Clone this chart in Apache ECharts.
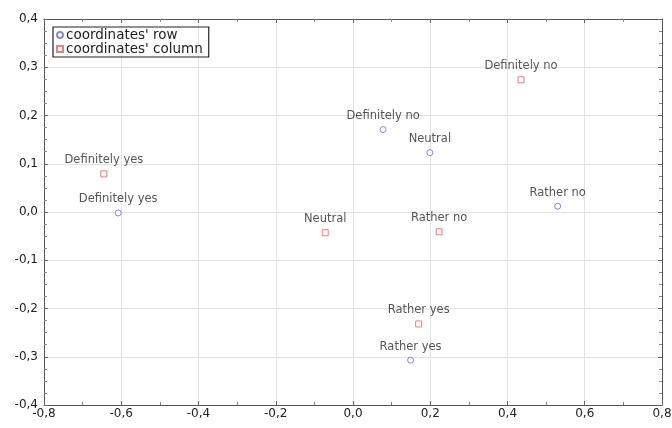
<!DOCTYPE html>
<html>
<head>
<meta charset="utf-8">
<script src="https://cdn.jsdelivr.net/npm/echarts@6/dist/echarts.min.js"></script>
<style>
  html, body { margin: 0; padding: 0; background: #fff; }
  #chart { width: 672px; height: 428px; }
</style>
</head>
<body>
<div id="chart"></div>
<script type="text/javascript">
	// categories and coordinates
	var categories = ['Definitely yes', 'Rather yes', 'Neutral', 'Rather no', 'Definitely no'];
	var rowX = [-0.608, 0.149, 0.199, 0.530, 0.078];
	var rowY = [-0.002, -0.307, 0.123, 0.012, 0.171];
	var colX = [-0.645, 0.170, -0.072, 0.223, 0.435];
	var colY = [0.079, -0.232, -0.043, -0.041, 0.274];
	var xTicks = [-0.8, -0.6, -0.4, -0.2, 0.0, 0.2, 0.4, 0.6, 0.8];
	var yTicks = [-0.4, -0.3, -0.2, -0.1, 0.0, 0.1, 0.2, 0.3, 0.4];

	function toPoints(xs, ys) {
		var out = [];
		for (var i = 0; i < categories.length; i++) {
			out.push({ name: categories[i], value: [xs[i], ys[i]] });
		}
		return out;
	}
	function comma(v) {
		return v.toFixed(1).replace('.', ',');
	}

	var frame = { show: true, onZero: false, lineStyle: { color: '#555', width: 1 } };
	var gridLine = { show: true, lineStyle: { color: '#e2e2e8', width: 1 } };
	var tickLabel = { color: '#222', fontSize: 12, fontFamily: 'DejaVu Sans' };
	var pointLabel = {
		show: true, position: 'top', distance: 4,
		formatter: '{b}', color: '#2a2a2a', fontSize: 11.5, fontFamily: 'DejaVu Sans'
	};

	var myChart = echarts.init(document.getElementById('chart'));
	var option = {
		animation: false,
		grid: { left: 44, right: 10, top: 19, bottom: 23, outerBoundsMode: 'none' },
		legend: {
			left: 53, top: 27,
			orient: 'vertical',
			borderColor: '#222', borderWidth: 1.2,
			padding: [1, 6, 1, 3],
			itemGap: 0, itemWidth: 6, itemHeight: 6,
			textStyle: { color: '#222', fontSize: 13.5, fontFamily: 'DejaVu Sans', padding: [0, 0, 0, -2] },
			data: ["coordinates' row", "coordinates' column"]
		},
		xAxis: [{
			type: 'value', position: 'bottom',
			min: xTicks[0], max: xTicks[xTicks.length - 1], interval: 0.2,
			axisLine: frame,
			axisTick: { show: true, inside: true, length: 4, lineStyle: { color: '#666' } },
			minorTick: { show: true, splitNumber: 2, length: 3, lineStyle: { color: '#888' } },
			splitLine: gridLine,
			axisLabel: { show: true, formatter: comma, margin: 3, ...tickLabel }
		}, {
			type: 'value', position: 'top',
			min: xTicks[0], max: xTicks[xTicks.length - 1], interval: 0.2,
			axisLine: frame,
			axisTick: { show: true, inside: true, length: 4, lineStyle: { color: '#666' } },
			minorTick: { show: true, splitNumber: 2, length: 3, lineStyle: { color: '#888' } },
			splitLine: { show: false },
			axisLabel: { show: false }
		}],
		yAxis: [{
			type: 'value', position: 'left',
			min: yTicks[0], max: yTicks[yTicks.length - 1], interval: 0.1,
			axisLine: frame,
			axisTick: { show: true, inside: true, length: 4, lineStyle: { color: '#666' } },
			minorTick: { show: true, splitNumber: 4, length: 3, lineStyle: { color: '#888' } },
			splitLine: gridLine,
			axisLabel: { show: true, formatter: comma, margin: 6, ...tickLabel }
		}, {
			type: 'value', position: 'right',
			min: yTicks[0], max: yTicks[yTicks.length - 1], interval: 0.1,
			axisLine: frame,
			axisTick: { show: true, inside: true, length: 4, lineStyle: { color: '#666' } },
			minorTick: { show: true, splitNumber: 4, length: 3, lineStyle: { color: '#888' } },
			splitLine: { show: false },
			axisLabel: { show: false }
		}],
		series: [{
			name: "coordinates' row",
			type: 'scatter',
			symbol: 'circle',
			symbolSize: 6,
			itemStyle: { color: '#fff', borderColor: '#6a6ad8', borderWidth: 1 },
			label: pointLabel,
			data: toPoints(rowX, rowY)
		}, {
			name: "coordinates' column",
			type: 'scatter',
			symbol: 'rect',
			symbolSize: 6,
			itemStyle: { color: '#fff', borderColor: '#e06060', borderWidth: 1 },
			label: pointLabel,
			data: toPoints(colX, colY)
		}]
	};
	myChart.setOption(option);
</script>
</body>
</html>
